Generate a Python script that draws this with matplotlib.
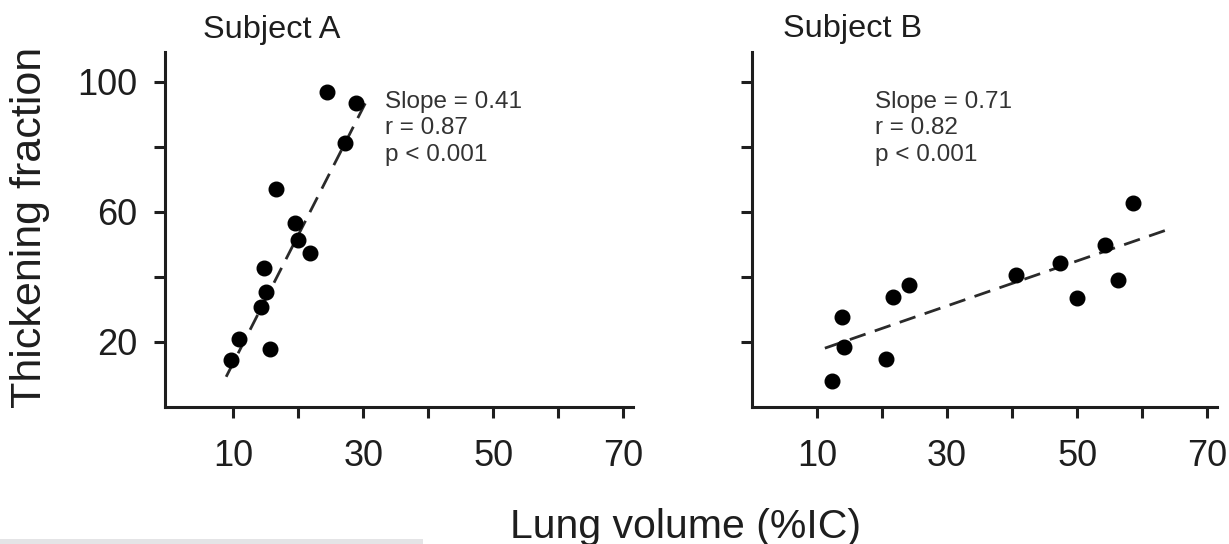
import matplotlib
matplotlib.use("Agg")
import matplotlib.pyplot as plt
import matplotlib.patches as patches

plt.rcParams['font.family'] = ['Liberation Sans', 'DejaVu Sans']

# Data
subj_a_x = [24.4, 28.8, 27.2, 16.6, 19.5, 19.9, 21.8, 14.7, 15.0, 14.3, 10.8, 15.7, 9.6]
subj_a_y = [96.8, 93.4, 81.1, 67.0, 56.7, 51.4, 47.5, 42.7, 35.5, 30.9, 20.8, 17.7, 14.5]
fit_a_x = [8.9, 30.3]
fit_a_y = [9.3, 93.4]

subj_b_x = [58.5, 54.3, 47.4, 40.6, 56.3, 50.0, 24.1, 21.7, 13.8, 14.1, 20.6, 12.3]
subj_b_y = [62.7, 49.8, 44.2, 40.6, 39.1, 33.4, 37.5, 33.9, 27.8, 18.6, 14.7, 8.1]
fit_b_x = [11.2, 63.8]
fit_b_y = [18.1, 54.5]

titles = ["Subject A", "Subject B"]
stats = ["Slope = 0.41\nr = 0.87\np < 0.001",
         "Slope = 0.71\nr = 0.82\np < 0.001"]
x_labels = [10, 30, 50, 70]
y_labels = [20, 60, 100]

ink = '#1e1e1e'

fig = plt.figure(figsize=(12.29, 5.44), dpi=100)
ax_a = fig.add_axes([0.1343, 0.2518, 0.3808, 0.6526])
ax_b = fig.add_axes([0.6119, 0.2518, 0.3784, 0.6526])

panels = [
    (ax_a, subj_a_x, subj_a_y, fit_a_x, fit_a_y, (-0.5, 71.5), (33.4, 97.2)),
    (ax_b, subj_b_x, subj_b_y, fit_b_x, fit_b_y, (0, 71.5), (18.9, 97.2)),
]

for i, (ax, xs, ys, fx, fy, xlim, txt_pos) in enumerate(panels):
    ax.plot(fx, fy, color='#2a2a2a', lw=2.0, dashes=(6, 3.5))
    ax.plot(xs, ys, 'o', color='black', ms=10.5, mec='black')
    ax.set_xlim(*xlim)
    ax.set_ylim(0, 109.2)

    for side in ['top', 'right']:
        ax.spines[side].set_visible(False)
    for side in ['left', 'bottom']:
        ax.spines[side].set_linewidth(2.2)
        ax.spines[side].set_color(ink)

    ax.set_xticks(range(10, 71, 10))
    ax.set_xticklabels([str(v) if v in x_labels else '' for v in range(10, 71, 10)])
    ax.set_yticks(range(20, 101, 20))
    if i == 0:
        ax.set_yticklabels([str(v) if v in y_labels else '' for v in range(20, 101, 20)])
    else:
        ax.set_yticklabels([])
    ax.tick_params(length=8, width=2.2, color=ink, labelsize=26, labelcolor=ink)
    ax.tick_params(axis='x', pad=15)
    ax.tick_params(axis='y', pad=12)

    ax.text(txt_pos[0], txt_pos[1], stats[i], ha='left', va='top',
            fontsize=17.5, color='#333333', linespacing=1.26)

fig.text(203 / 1229, 1 - 38 / 544, titles[0], ha='left', va='baseline',
         fontsize=23.4, color=ink)
fig.text(783 / 1229, 1 - 37 / 544, titles[1], ha='left', va='baseline',
         fontsize=23.4, color=ink)

fig.text(30 / 1229, 1 - 227 / 544, "Thickening fraction", rotation=90,
         ha='center', va='center', fontsize=31, color=ink)
fig.text(686 / 1229, 1 - 538 / 544, "Lung volume (%IC)", ha='center',
         va='baseline', fontsize=29.5, color=ink)

# faint grey strip along the bottom-left edge of the original screenshot
fig.patches.append(patches.Rectangle((0, 0), 423 / 1229, 5 / 544,
                                     transform=fig.transFigure,
                                     facecolor='#e4e4e6', edgecolor='none'))

fig.savefig("out.png", dpi=100)
